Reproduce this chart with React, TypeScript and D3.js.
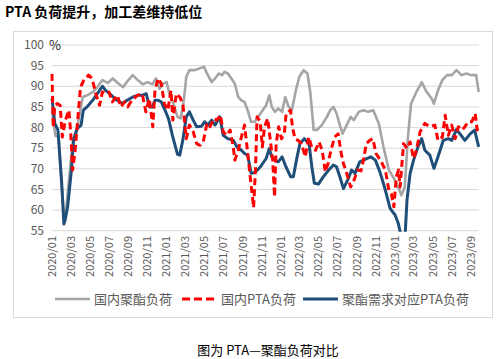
import React from 'react';
import * as d3 from 'd3';

const W = 497;
const H = 359;

const title = 'PTA 负荷提升，加工差维持低位';
const caption = '图为 PTA—聚酯负荷对比';
const yTicks = [55, 60, 65, 70, 75, 80, 85, 90, 95, 100];
const seriesNames = ['国内聚酯负荷', '国内PTA负荷', '聚酯需求对应PTA负荷'];

// 国内聚酯负荷
const polyesterLoad: [string, number][] = [
  ['2020-01-01', 84], ['2020-01-12', 78], ['2020-01-22', 77.7], ['2020-02-01', 66], ['2020-02-08', 58.5],
  ['2020-02-15', 60], ['2020-02-25', 68], ['2020-03-08', 77], ['2020-03-22', 80.2], ['2020-04-08', 87.4],
  ['2020-04-22', 87.8], ['2020-05-10', 88.6], ['2020-05-25', 89.8], ['2020-06-10', 91.5], ['2020-06-27', 90.8],
  ['2020-07-13', 91.9], ['2020-08-01', 90.6], ['2020-08-15', 89.8], ['2020-09-01', 91.5], ['2020-09-15', 92.7],
  ['2020-10-01', 91.5], ['2020-10-17', 90.5], ['2020-11-01', 91], ['2020-11-17', 90.5], ['2020-11-28', 91.9],
  ['2020-12-10', 89.4], ['2020-12-20', 90.6], ['2021-01-01', 91], ['2021-01-10', 88.2], ['2021-01-23', 85.8],
  ['2021-02-05', 82.6], ['2021-02-15', 82.2], ['2021-02-25', 86.6], ['2021-03-05', 92.3], ['2021-03-15', 93.9],
  ['2021-03-31', 93.9], ['2021-04-15', 94.3], ['2021-05-01', 94.7], ['2021-05-10', 93.1], ['2021-05-25', 91],
  ['2021-06-05', 91.9], ['2021-06-17', 93.1], ['2021-06-27', 92.7], ['2021-07-05', 93.5], ['2021-07-16', 93.1],
  ['2021-07-27', 91.9], ['2021-08-07', 90.6], ['2021-08-18', 87.4], ['2021-08-28', 86.6], ['2021-09-07', 86.2],
  ['2021-09-17', 84.2], ['2021-09-28', 81.4], ['2021-10-10', 81.4], ['2021-10-28', 83.4], ['2021-11-15', 85.4],
  ['2021-11-25', 87.8], ['2021-12-03', 85], ['2021-12-13', 83.8], ['2021-12-24', 84.6], ['2022-01-05', 83.8],
  ['2022-01-15', 87.4], ['2022-01-26', 85], ['2022-02-05', 84.2], ['2022-02-18', 89], ['2022-03-01', 92.3],
  ['2022-03-15', 93.9], ['2022-03-27', 93.1], ['2022-04-05', 88.6], ['2022-04-16', 79.4], ['2022-04-26', 79.4],
  ['2022-05-12', 80.6], ['2022-05-28', 82.6], ['2022-06-08', 84.2], ['2022-06-18', 85], ['2022-06-28', 83.4],
  ['2022-07-10', 80.2], ['2022-07-17', 78.5], ['2022-08-02', 81], ['2022-08-12', 82.6], ['2022-08-22', 81.8],
  ['2022-09-07', 83.8], ['2022-09-22', 84.2], ['2022-10-07', 83.8], ['2022-10-23', 84.2], ['2022-11-10', 81],
  ['2022-11-25', 75.3], ['2022-12-12', 69.7], ['2022-12-28', 67.7], ['2023-01-11', 65.6], ['2023-01-21', 63.6],
  ['2023-02-01', 65.6], ['2023-02-11', 77.7], ['2023-02-21', 85.8], ['2023-03-10', 88.6], ['2023-03-27', 91],
  ['2023-04-12', 88.6], ['2023-04-28', 87], ['2023-05-05', 85.8], ['2023-05-18', 89], ['2023-06-01', 91.5],
  ['2023-06-16', 92.7], ['2023-07-01', 92.7], ['2023-07-16', 93.9], ['2023-08-01', 92.7], ['2023-08-17', 93.1],
  ['2023-09-01', 92.7], ['2023-09-17', 92.7], ['2023-09-25', 88.6],
];

// 国内PTA负荷
const ptaLoad: [string, number][] = [
  ['2020-01-01', 93], ['2020-01-05', 80], ['2020-01-10', 85.4], ['2020-01-18', 85.8], ['2020-01-27', 85.4],
  ['2020-02-03', 77.7], ['2020-02-13', 81.8], ['2020-02-24', 84.2], ['2020-03-01', 78.5], ['2020-03-07', 69.7],
  ['2020-03-15', 74.5], ['2020-04-01', 89.8], ['2020-04-12', 91.5], ['2020-04-27', 92.7], ['2020-05-08', 91.9],
  ['2020-05-20', 88.2], ['2020-06-01', 85.4], ['2020-06-10', 88.6], ['2020-06-20', 88.2], ['2020-07-01', 88.6],
  ['2020-07-12', 86.2], ['2020-07-28', 87.8], ['2020-08-08', 85], ['2020-08-20', 86.2], ['2020-08-30', 85],
  ['2020-09-12', 86.6], ['2020-09-30', 87.8], ['2020-10-15', 88.2], ['2020-10-27', 83.8], ['2020-11-07', 87],
  ['2020-11-18', 80.2], ['2020-11-25', 89], ['2020-12-05', 91.9], ['2020-12-15', 90.6], ['2020-12-25', 85.8],
  ['2021-01-05', 84.2], ['2021-01-15', 89], ['2021-01-21', 81.8], ['2021-02-01', 88.2], ['2021-02-12', 87.4],
  ['2021-02-22', 85.8], ['2021-03-05', 77.3], ['2021-03-15', 80.6], ['2021-03-27', 79], ['2021-04-07', 76.1],
  ['2021-04-18', 75.7], ['2021-04-28', 76.5], ['2021-05-10', 81], ['2021-05-20', 80.2], ['2021-06-01', 82.2],
  ['2021-06-10', 81.8], ['2021-06-22', 83], ['2021-07-01', 79], ['2021-07-12', 78.1], ['2021-07-23', 79.4],
  ['2021-08-02', 75.3], ['2021-08-07', 72.1], ['2021-08-18', 74.5], ['2021-08-28', 77.7], ['2021-09-07', 80.6],
  ['2021-09-15', 75.3], ['2021-09-24', 68.9], ['2021-10-06', 60.6], ['2021-10-12', 70], ['2021-10-17', 82.6],
  ['2021-10-27', 81.4], ['2021-11-03', 75.3], ['2021-11-10', 80.2], ['2021-11-20', 82.2], ['2021-12-01', 75.3],
  ['2021-12-06', 72.1], ['2021-12-12', 63.2], ['2021-12-17', 76.1], ['2021-12-25', 80.2], ['2022-01-03', 77.3],
  ['2022-01-12', 78.5], ['2022-01-18', 83.4], ['2022-02-01', 84.2], ['2022-02-07', 80.2], ['2022-02-15', 77.3],
  ['2022-02-25', 76.9], ['2022-03-08', 76.1], ['2022-03-20', 72.9], ['2022-03-31', 77.7], ['2022-04-11', 74.9],
  ['2022-04-22', 74.5], ['2022-05-03', 76.5], ['2022-05-13', 74.5], ['2022-05-23', 69.3], ['2022-06-01', 71.3],
  ['2022-06-10', 74.5], ['2022-06-22', 77.7], ['2022-07-03', 78.5], ['2022-07-13', 73.7], ['2022-07-20', 71.3],
  ['2022-08-01', 68.5], ['2022-08-12', 65.6], ['2022-08-23', 67.3], ['2022-09-03', 69.7], ['2022-09-14', 69.5],
  ['2022-09-22', 72.1], ['2022-10-01', 76.1], ['2022-10-12', 76.9], ['2022-10-22', 77.3], ['2022-11-01', 73.7],
  ['2022-11-08', 72.9], ['2022-11-18', 71.7], ['2022-12-01', 69.7], ['2022-12-12', 64.8], ['2022-12-20', 64],
  ['2022-12-28', 60.8], ['2023-01-05', 68.1], ['2023-01-12', 69.7], ['2023-01-17', 65.6], ['2023-01-28', 76.1],
  ['2023-02-08', 74.9], ['2023-02-18', 76.5], ['2023-03-01', 72.5], ['2023-03-10', 74.5], ['2023-03-22', 79],
  ['2023-04-06', 81], ['2023-04-22', 80.2], ['2023-05-08', 80.6], ['2023-05-18', 76.9], ['2023-06-01', 77.7],
  ['2023-06-10', 83], ['2023-06-20', 78.1], ['2023-07-01', 80.6], ['2023-07-12', 77.3], ['2023-07-22', 80.2],
  ['2023-08-03', 79.4], ['2023-08-12', 80.2], ['2023-08-23', 81.4], ['2023-09-03', 81.4], ['2023-09-14', 83.4],
  ['2023-09-20', 79.4], ['2023-09-25', 80.2],
];

// 聚酯需求对应PTA负荷
const demandPtaLoad: [string, number][] = [
  ['2020-01-01', 87], ['2020-01-10', 81], ['2020-01-20', 79.4], ['2020-02-01', 66.5], ['2020-02-08', 56.6],
  ['2020-02-12', 57.6], ['2020-02-20', 60.8], ['2020-03-03', 69.7], ['2020-03-10', 77], ['2020-03-22', 79.8],
  ['2020-04-03', 80.6], ['2020-04-10', 84.2], ['2020-04-22', 85], ['2020-05-10', 86.6], ['2020-05-25', 88.2],
  ['2020-06-10', 90], ['2020-06-20', 89], ['2020-07-03', 88.2], ['2020-07-20', 87], ['2020-08-12', 85.8],
  ['2020-08-28', 86.6], ['2020-09-15', 87.4], ['2020-10-01', 87.8], ['2020-10-15', 87.8], ['2020-10-28', 88.2],
  ['2020-11-07', 85], ['2020-11-17', 85], ['2020-11-25', 86.6], ['2020-12-05', 86.6], ['2020-12-15', 86.2],
  ['2020-12-27', 84.2], ['2021-01-07', 82.2], ['2021-01-20', 78], ['2021-02-05', 73.5], ['2021-02-12', 73.3],
  ['2021-02-22', 77], ['2021-03-05', 82.6], ['2021-03-15', 83.8], ['2021-03-27', 81.8], ['2021-04-07', 80.2],
  ['2021-04-22', 80.3], ['2021-05-03', 81.4], ['2021-05-13', 80.6], ['2021-05-25', 81.8], ['2021-06-05', 80.6],
  ['2021-06-20', 82.6], ['2021-07-01', 78.1], ['2021-07-16', 77.3], ['2021-08-02', 76.9], ['2021-08-14', 75.3],
  ['2021-08-28', 74.5], ['2021-09-07', 73.7], ['2021-09-17', 73.3], ['2021-09-28', 68.9], ['2021-10-10', 69.1],
  ['2021-10-28', 70.5], ['2021-11-15', 72.5], ['2021-11-25', 74.9], ['2021-12-03', 72.9], ['2021-12-13', 72.1],
  ['2021-12-24', 71.7], ['2022-01-05', 72.9], ['2022-01-15', 70.9], ['2022-02-01', 68.1], ['2022-02-10', 68.1],
  ['2022-02-22', 72.9], ['2022-03-03', 76.1], ['2022-03-17', 77.3], ['2022-04-01', 76.1], ['2022-04-10', 70.5],
  ['2022-04-18', 66.5], ['2022-05-01', 66.3], ['2022-05-17', 68.1], ['2022-06-03', 69.7], ['2022-06-18', 70.9],
  ['2022-06-28', 70.5], ['2022-07-10', 67.7], ['2022-07-20', 65.2], ['2022-08-05', 67.7], ['2022-08-15', 69.7],
  ['2022-08-26', 68.9], ['2022-09-10', 71.7], ['2022-09-27', 72.3], ['2022-10-15', 72.9], ['2022-10-30', 72.1],
  ['2022-11-15', 68.9], ['2022-12-01', 64.8], ['2022-12-16', 60.4], ['2023-01-01', 58.8], ['2023-01-11', 56.8],
  ['2023-01-21', 53.5], ['2023-02-01', 52.5], ['2023-02-08', 62.4], ['2023-02-18', 68.9], ['2023-03-01', 72.1],
  ['2023-03-15', 75.3], ['2023-03-27', 77.3], ['2023-04-06', 74.5], ['2023-04-22', 73.3], ['2023-05-05', 70.1],
  ['2023-05-18', 72.9], ['2023-06-04', 76.9], ['2023-06-20', 77.3], ['2023-07-01', 76.9], ['2023-07-16', 79.5],
  ['2023-07-27', 78.5], ['2023-08-12', 76.9], ['2023-08-28', 78.4], ['2023-09-12', 79.4], ['2023-09-25', 75.3],
];

const FONT = '"Noto Sans CJK SC", "Noto Sans", sans-serif';
const parse = d3.timeParse('%Y-%m-%d');

export default function App() {
  const left = 52;
  const right = 479;
  const top = 45;
  const bottom = 230.7;

  const x = d3.scaleTime()
    .domain([parse('2020-01-01')!, parse('2023-09-26')!])
    .range([left, right]);
  const y = d3.scaleLinear().domain([55, 100]).range([bottom, top]);

  const line = d3.line<[string, number]>()
    .x(d => x(parse(d[0])!))
    .y(d => y(d[1]));

  const xTicks = d3.timeMonth.range(parse('2020-01-01')!, parse('2023-09-02')!, 2);
  const fmt = d3.timeFormat('%Y/%m');

  const series = [
    { name: seriesNames[0], data: polyesterLoad, color: '#a5a5a5', width: 2.6, dash: undefined as string | undefined },
    { name: seriesNames[1], data: ptaLoad, color: '#ff0000', width: 3, dash: '7,4' },
    { name: seriesNames[2], data: demandPtaLoad, color: '#1f4e79', width: 3, dash: undefined },
  ];
  const drawOrder = [series[0], series[2], series[1]];

  const legendX = [55, 182, 303];

  return (
    <svg width={W} height={H} style={{ position: 'absolute', left: 0, top: 0, background: '#fff' }}>
      <defs>
        <clipPath id="plot">
          <rect x={left - 2} y={top - 5} width={right - left + 6} height={bottom - top + 6} />
        </clipPath>
      </defs>
      <text x={5} y={17} fontFamily={FONT} fontSize={14} fontWeight="bold" fill="#000">{title}</text>
      <rect x={13.5} y={31.5} width={479} height={286} fill="none" stroke="#d9d9d9" />

      {yTicks.map(t => (
        <g key={t}>
          <line x1={left} x2={right} y1={y(t)} y2={y(t)} stroke="#d9d9d9" strokeWidth={1} />
          <text x={44} y={y(t)} dy="0.35em" textAnchor="end" fontFamily={FONT} fontSize={12} fill="#595959">{t}</text>
        </g>
      ))}
      <text x={49} y={y(100)} dy="0.35em" fontFamily={FONT} fontSize={13} fill="#262626">%</text>

      {xTicks.map(d => (
        <text key={+d} transform={`translate(${x(d)},236) rotate(-90)`} dy="0.35em" textAnchor="end"
          fontFamily={FONT} fontSize={11} fill="#595959">{fmt(d)}</text>
      ))}

      <g clipPath="url(#plot)">
        {drawOrder.map(s => (
          <path key={s.name} d={line(s.data) ?? ''} fill="none" stroke={s.color} strokeWidth={s.width}
            strokeDasharray={s.dash} strokeLinejoin="round" />
        ))}
      </g>

      {series.map((s, i) => (
        <g key={s.name} transform={`translate(${legendX[i]},299)`}>
          <line x1={0} x2={35} y1={0} y2={0} stroke={s.color} strokeWidth={s.width} strokeDasharray={s.dash ? '8,4' : undefined} />
          <text x={39} y={0} dy="0.35em" fontFamily={FONT} fontSize={13} fill="#595959">{s.name}</text>
        </g>
      ))}

      <text x={268} y={355} textAnchor="middle" fontFamily={FONT} fontSize={13} fill="#000">{caption}</text>
    </svg>
  );
}
